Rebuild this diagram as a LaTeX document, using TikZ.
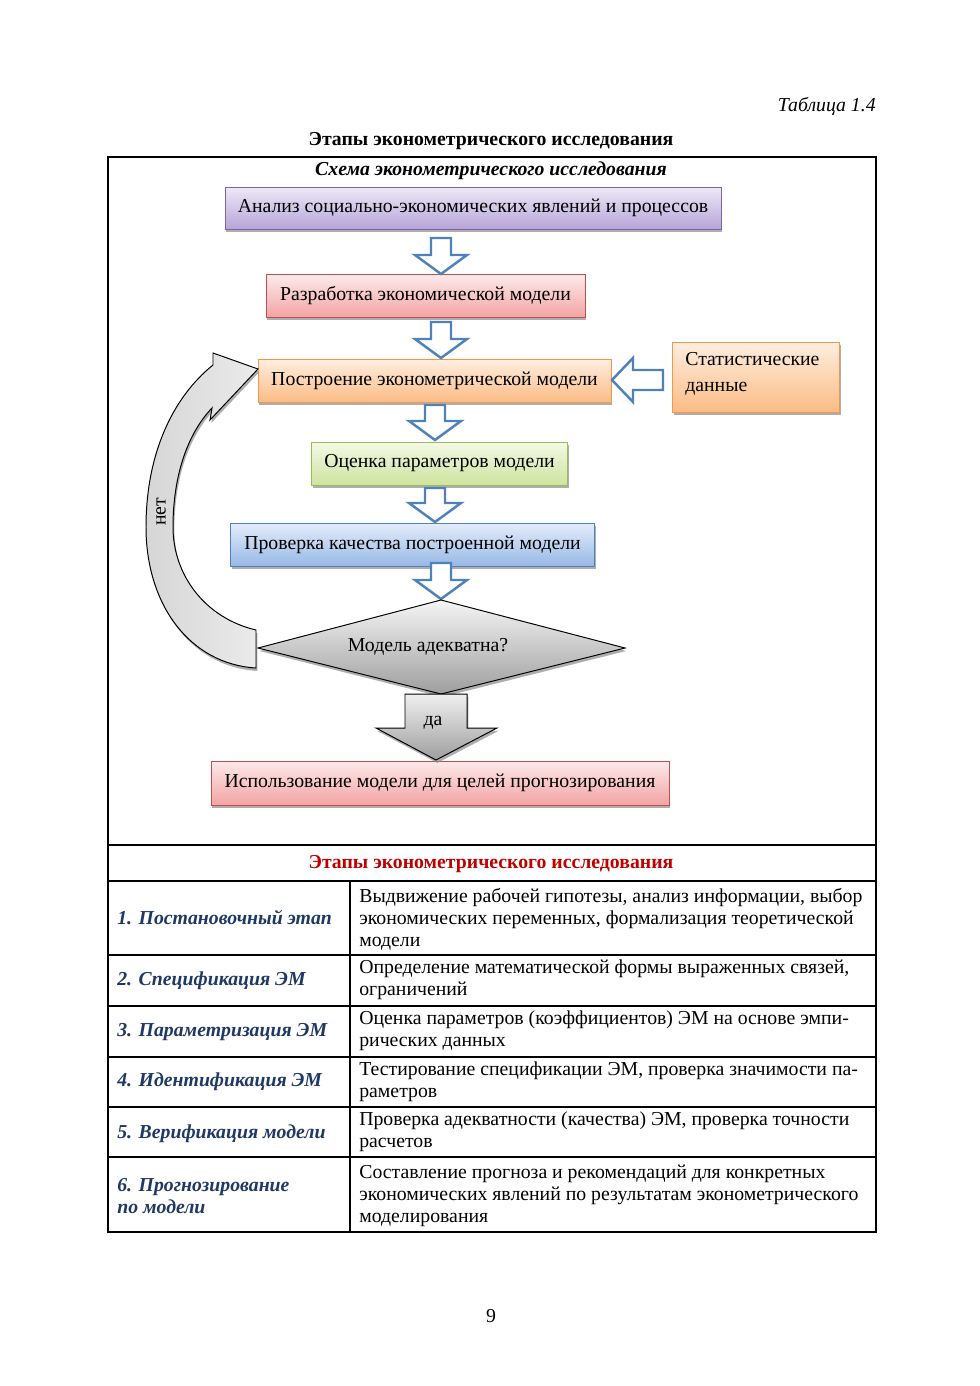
\documentclass[tikz,border=0pt]{standalone}
\usepackage{fontspec}
\setmainfont{Liberation Serif}
\usetikzlibrary{shadows,calc}
\definecolor{purT}{HTML}{EEE9F7}
\definecolor{purD}{HTML}{B6A5D8}
\definecolor{purB}{HTML}{8064A2}
\definecolor{redT}{HTML}{FDEAEA}
\definecolor{redD}{HTML}{F3A3A3}
\definecolor{redB}{HTML}{C0504D}
\definecolor{orgT}{HTML}{FEEEE0}
\definecolor{orgD}{HTML}{FBBC85}
\definecolor{orgB}{HTML}{F79646}
\definecolor{grnT}{HTML}{F3F9E6}
\definecolor{grnD}{HTML}{CFE39E}
\definecolor{grnB}{HTML}{9BBB59}
\definecolor{bluT}{HTML}{E4EDFA}
\definecolor{bluD}{HTML}{97B8E6}
\definecolor{bluB}{HTML}{4F81BD}
\definecolor{navy}{HTML}{1F3864}
\definecolor{hdred}{HTML}{C00000}
\newcommand\hdown[3]{\draw[harrow] ({#1-10},#2) -- ({#1+10},#2) -- ({#1+10},{#3-19}) -- ({#1+26},{#3-19}) -- (#1,#3) -- ({#1-26},{#3-19}) -- ({#1-10},{#3-19}) -- cycle;}
\begin{document}
\begin{tikzpicture}[x=0.6074pt,y=-0.6074pt,
  every node/.style={font=\fontsize{12}{13.4}\selectfont, inner sep=0pt},
  shad/.style={drop shadow={shadow xshift=0.8pt, shadow yshift=-1.8pt, fill=black!45, opacity=0.7}},
  fbox/.style={draw=#1, line width=0.6pt, shad},
  harrow/.style={draw=bluB, fill=white, line width=1.5pt, line join=miter},
  tline/.style={draw=black, line width=0.7pt},
  lcol/.style={anchor=west, align=left, text=navy, font=\fontsize{12}{13.4}\selectfont\bfseries\itshape},
  rcol/.style={anchor=west, align=left}]
\fill[white] (0,0) rectangle (980,1386);
\useasboundingbox (0,0) rectangle (980,1386);

% headings
\node[anchor=east, font=\fontsize{12}{13.4}\selectfont\itshape] (tab) at (876,106) {Таблица 1.4};
\node[font=\fontsize{12}{13.4}\selectfont\bfseries] (ttl) at (491,141) {Этапы эконометрического исследования};
\node[font=\fontsize{12}{13.4}\selectfont\bfseries\itshape] (sch) at (491,171) {Схема эконометрического исследования};

% table frame
\draw[tline] (108,157) rectangle (876,1232);
\draw[tline] (108,845) -- (876,845);
\draw[tline] (108,881) -- (876,881);
\draw[tline] (350,881) -- (350,1232);
\foreach \yy in {955,1006,1057,1107,1157} \draw[tline] (108,\yy) -- (876,\yy);

% flowchart boxes
\node[fbox=purB, top color=purT, bottom color=purD, minimum width=496*0.6074pt, minimum height=42*0.6074pt] (b1) at (473,208) {Анализ социально-экономических явлений и процессов};
\node[fbox=redB, top color=redT, bottom color=redD, minimum width=319*0.6074pt, minimum height=43*0.6074pt] (b2) at (425.5,296) {Разработка экономической модели};
\node[fbox=orgB, top color=orgT, bottom color=orgD, minimum width=353*0.6074pt, minimum height=43*0.6074pt] (b3) at (434.5,380.5) {Построение эконометрической модели};
\node[fbox=orgB, top color=orgT, bottom color=orgD, minimum width=167*0.6074pt, minimum height=70*0.6074pt] (sd) at (756,377) {};
\node[anchor=west, align=left, font=\fontsize{12}{15.8}\selectfont] (sdt) at (685,374) {Статистические\\данные};
\node[fbox=grnB, top color=grnT, bottom color=grnD, minimum width=256*0.6074pt, minimum height=43*0.6074pt] (b4) at (439.5,463.5) {Оценка параметров модели};
\node[fbox=bluB, top color=bluT, bottom color=bluD, minimum width=364*0.6074pt, minimum height=43*0.6074pt] (b5) at (412.5,544.5) {Проверка качества построенной модели};
\node[fbox=redB, top color=redT, bottom color=redD, minimum width=458*0.6074pt, minimum height=44*0.6074pt] (b6) at (440,783) {Использование модели для целей прогнозирования};

% hollow down arrows
\hdown{441}{238}{274}
\hdown{441}{322}{358}
\hdown{435}{405}{440}
\hdown{435}{488}{522}
\hdown{441}{563}{599}
% hollow left arrow from statistics
\draw[harrow] (663,370) -- (633,370) -- (633,358) -- (612,380) -- (633,402) -- (633,390) -- (663,390) -- cycle;

% decision diamond
\shade[shad, top color=black!4, bottom color=black!38, draw=black, line width=0.6pt] (441,600) -- (625,648) -- (441,694) -- (258,648) -- cycle;
\node (q) at (428,647) {Модель адекватна?};

% yes arrow
\shade[shad, top color=black!6, bottom color=black!38, draw=black, line width=0.6pt] (405,694) -- (467,694) -- (467,728) -- (497,728) -- (436,760) -- (376,728) -- (405,728) -- cycle;
\node (yes) at (433,723) {да};

% curved "no" arrow
\shade[shad, left color=black!16, right color=black!8, draw=black, line width=0.6pt]
  (256,668) -- (256,630)
  .. controls (205,618) and (173,575) .. (173,527)
  .. controls (173,475) and (188,433) .. (212,408)
  -- (210,420) -- (258,369) -- (213,353) -- (213,365)
  .. controls (172,398) and (146,455) .. (146,527)
  .. controls (146,605) and (190,664) .. (256,668) -- cycle;
\node[rotate=90] (no) at (161,512) {нет};

% table contents
\node[font=\fontsize{12}{13.4}\selectfont\bfseries, text=hdred] (th) at (491,864) {Этапы эконометрического исследования};
\node[lcol] (l1) at (117,918) {1. Постановочный этап};
\node[lcol] (l2) at (117,981) {2. Спецификация ЭМ};
\node[lcol] (l3) at (117,1032) {3. Параметризация ЭМ};
\node[lcol] (l4) at (117,1082) {4. Идентификация ЭМ};
\node[lcol] (l5) at (117,1134) {5. Верификация модели};
\node[lcol] (l6) at (117,1196) {6. Прогнозирование\\по модели};
\node[rcol] (r1) at (359,919) {Выдвижение рабочей гипотезы, анализ информации, выбор\\экономических переменных, формализация теоретической\\модели};
\node[rcol] (r2) at (359,980) {Определение математической формы выраженных связей,\\ограничений};
\node[rcol] (r3) at (359,1031) {Оценка параметров (коэффициентов) ЭМ на основе эмпи-\\рических данных};
\node[rcol] (r4) at (359,1082) {Тестирование спецификации ЭМ, проверка значимости па-\\раметров};
\node[rcol] (r5) at (359,1132) {Проверка адекватности (качества) ЭМ, проверка точности\\расчетов};
\node[rcol] (r6) at (359,1196) {Составление прогноза и рекомендаций для конкретных\\экономических явлений по результатам эконометрического\\моделирования};

\node (pg) at (491,1316) {9};
\end{tikzpicture}
\end{document}
